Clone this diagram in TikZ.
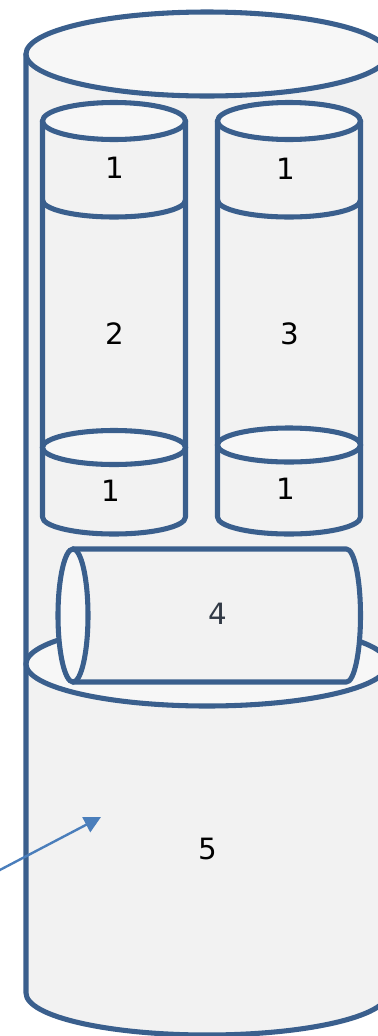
\documentclass[tikz,border=0pt]{standalone}
\usepackage{fontspec}
\setmainfont{DejaVu Sans}
\usetikzlibrary{arrows.meta}
\definecolor{colTrait}{RGB}{58,95,141}
\definecolor{colCorps}{RGB}{242,242,242}
\definecolor{colLid}{RGB}{247,247,247}
\definecolor{colFleche}{RGB}{74,126,187}
\definecolor{colQuatre}{RGB}{50,58,70}

\begin{document}
\begin{tikzpicture}[x=0.75pt, y=-0.75pt, font=\fontsize{22}{24}\selectfont,
    corps/.style={draw=colTrait, fill=colCorps, line width=3.8pt, line join=round},
    lid/.style={draw=colTrait, fill=colLid, line width=3.8pt},
    trait/.style={draw=colTrait, line width=3.8pt},
    lbl/.style={inner sep=0pt, text=black},
    fl/.style={-{Triangle[length=12.5pt, width=12.5pt]}, line width=1.8pt, colFleche}]
    \useasboundingbox (0,0) rectangle (378,1036);
    \clip (0,0) rectangle (378,1036);
    % grand cylindre
    \path[corps] (26,54) -- (26,993)
      arc[start angle=180, end angle=0, x radius=181, y radius=42]
      -- (388,54) -- cycle;
    \path[lid] (207,54) ellipse[x radius=181, y radius=42];
    \path[lid] (207,664) ellipse[x radius=181, y radius=42];
    % cylindre gauche
    \path[corps] (42.5,121) -- (42.5,517)
      arc[start angle=180, end angle=0, x radius=71.5, y radius=17]
      -- (185.5,121) -- cycle;
    \path[lid] (114,121) ellipse[x radius=71.5, y radius=18.5];
    \draw[trait] (42.5,200) arc[start angle=180, end angle=0, x radius=71.5, y radius=17];
    \path[lid] (114,447.5) ellipse[x radius=71.5, y radius=17];
    % cylindre droit
    \path[corps] (217.5,121) -- (217.5,517)
      arc[start angle=180, end angle=0, x radius=71.5, y radius=17]
      -- (360.5,121) -- cycle;
    \path[lid] (289,121) ellipse[x radius=71.5, y radius=18.5];
    \draw[trait] (217.5,200) arc[start angle=180, end angle=0, x radius=71.5, y radius=17];
    \path[lid] (289,445) ellipse[x radius=71.5, y radius=17];
    % cylindre couche
    \path[corps] (73,549) -- (346.5,549)
      arc[start angle=-90, end angle=90, x radius=14, y radius=66.5]
      -- (73,682) -- cycle;
    \path[lid] (73,615.5) ellipse[x radius=15, y radius=66.5];
    % chiffres
    \node[lbl] (hautG) at (115,168) {1};
    \node[lbl] (hautD) at (286,169) {1};
    \node[lbl] (deux) at (115,334) {2};
    \node[lbl] (trois) at (290,334) {3};
    \node[lbl] (basG) at (111,491) {1};
    \node[lbl] (basD) at (286,489) {1};
    \node[lbl, text=colQuatre] (quatre) at (218,614) {4};
    \node[lbl] (cinq) at (208,849) {5};
    % fleche
    \coordinate (depart) at (-4,872);
    \coordinate (pointe) at (101,817);
    \draw[fl] (depart)--(pointe);
  \end{tikzpicture}
\end{document}
